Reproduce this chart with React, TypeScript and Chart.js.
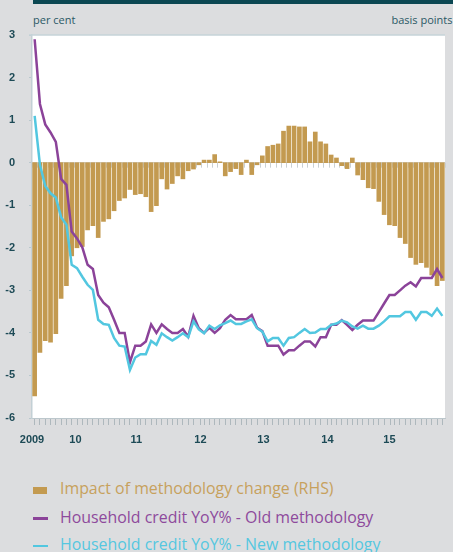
import React, { useEffect, useRef } from 'react';
import { Chart, registerables } from 'chart.js';

Chart.register(...registerables);

// Monthly observations, starting mid-2009 (index 0) through late 2015 (index 77)
const MONTH_INDEX: number[] = Array.from({ length: 78 }, (_, i) => i);

// Impact of methodology change, basis points (RHS)
const IMPACT_BP: number[] = [
  -54.8, -44.6, -41.8, -42.2, -40.2, -31.9, -28.9, -21.9, -20.0, -19.7,
  -15.8, -14.8, -17.6, -13.8, -13.2, -11.3, -8.9, -8.3, -6.3, -7.5,
  -7.3, -8.0, -11.5, -10.1, -3.8, -6.2, -4.9, -3.1, -3.8, -1.9,
  -1.5, -0.5, 0.6, 0.6, 1.9, 0.2, -3.1, -2.1, -1.4, -2.8,
  0.6, -2.8, -0.5, 1.6, 3.8, 4.1, 4.4, 7.4, 8.6, 8.6,
  8.4, 8.4, 4.9, 7.2, 4.9, 4.4, 1.8, 1.1, -0.7, -1.4,
  1.1, -2.9, -4.0, -5.9, -6.1, -9.1, -12.2, -14.6, -14.8, -17.6,
  -19.0, -22.3, -23.9, -23.5, -24.6, -26.4, -28.9, -27.7,
];

// Household credit YoY% - Old methodology
const OLD_METHOD: number[] = [
  2.90, 1.38, 0.90, 0.71, 0.49, -0.38, -0.52, -1.62, -1.78, -1.99,
  -2.40, -2.50, -3.11, -3.29, -3.40, -3.69, -4.00, -4.00, -4.69, -4.30,
  -4.30, -4.20, -3.80, -4.00, -3.80, -3.91, -4.00, -4.00, -3.91, -4.09,
  -3.60, -3.89, -4.00, -3.88, -4.00, -3.89, -3.69, -3.58, -3.68, -3.68,
  -3.68, -3.58, -3.88, -3.96, -4.30, -4.30, -4.30, -4.51, -4.41, -4.41,
  -4.30, -4.20, -4.20, -4.32, -4.10, -4.10, -3.81, -3.81, -3.70, -3.81,
  -3.93, -3.81, -3.71, -3.71, -3.71, -3.51, -3.31, -3.11, -3.11, -3.00,
  -2.89, -2.81, -2.91, -2.71, -2.71, -2.71, -2.50, -2.71,
];

// Household credit YoY% - New methodology
const NEW_METHOD: number[] = [
  1.10, -0.05, -0.55, -0.72, -0.82, -1.28, -1.46, -2.40, -2.48, -2.68,
  -2.87, -2.99, -3.69, -3.79, -3.81, -4.12, -4.30, -4.32, -4.87, -4.58,
  -4.50, -4.50, -4.19, -4.28, -4.01, -4.10, -4.18, -4.10, -4.01, -4.10,
  -3.73, -3.92, -4.01, -3.83, -3.91, -3.82, -3.77, -3.71, -3.79, -3.79,
  -3.73, -3.68, -3.89, -3.97, -4.20, -4.12, -4.12, -4.30, -4.12, -4.10,
  -4.00, -3.91, -4.00, -3.99, -3.91, -3.91, -3.81, -3.78, -3.71, -3.75,
  -3.85, -3.90, -3.83, -3.90, -3.90, -3.83, -3.73, -3.61, -3.61, -3.61,
  -3.51, -3.51, -3.69, -3.51, -3.51, -3.60, -3.43, -3.60,
];

// X-axis year labels and their positions (in month-index units)
const X_TICK_LABELS: string[] = ['2009', '10', '11', '12', '13', '14', '15'];
const X_TICK_POSITIONS: number[] = [-0.5, 7.7, 19.2, 31.3, 43.2, 55.3, 67.0];

const LEFT_MIN = -6;
const LEFT_MAX = 3;
const RIGHT_MIN = -60;
const RIGHT_MAX = 30;

const GOLD = '#c39a50';
const PURPLE = '#8b4399';
const CYAN = '#52c7e0';
const AXIS_TEXT = '#1d4a56';
const BG = '#dcdddf';

const W = 453;
const CANVAS_H = 450;

export default function App() {
  const ref = useRef<HTMLCanvasElement | null>(null);

  useEffect(() => {
    const canvas = ref.current;
    if (!canvas) return;

    const n = MONTH_INDEX.length;
    const boundaries: number[] = [];
    for (let i = 0; i <= n; i++) boundaries.push(i - 0.5);
    const labelMap = new Map<number, string>();
    X_TICK_POSITIONS.forEach((p, i) => labelMap.set(p, X_TICK_LABELS[i]));
    const labelOnly = new Set<number>(X_TICK_POSITIONS.filter((p) => !boundaries.includes(p)));
    const allTicks = Array.from(new Set<number>([...boundaries, ...X_TICK_POSITIONS])).sort((a, b) => a - b);

    const decor = {
      id: 'decor',
      beforeDraw(chart: any) {
        const { ctx, chartArea } = chart;
        ctx.save();
        ctx.fillStyle = '#ffffff';
        ctx.fillRect(chartArea.left, chartArea.top, chartArea.right - chartArea.left, chartArea.bottom - chartArea.top);
        ctx.restore();
      },
      beforeDatasetsDraw(chart: any) {
        const { ctx } = chart;
        const xs = chart.scales.x;
        const y0 = chart.scales.y.getPixelForValue(0);
        ctx.save();
        ctx.strokeStyle = '#c9d0d3';
        ctx.lineWidth = 1;
        boundaries.forEach((b) => {
          const px = Math.round(xs.getPixelForValue(b)) + 0.5;
          ctx.beginPath();
          ctx.moveTo(px, y0);
          ctx.lineTo(px, y0 + 5);
          ctx.stroke();
        });
        ctx.restore();
      },
      afterDraw(chart: any) {
        const { ctx, chartArea } = chart;
        ctx.save();
        ctx.strokeStyle = '#c6d3d8';
        ctx.lineWidth = 1.5;
        ctx.beginPath();
        ctx.moveTo(chartArea.left - 3, chartArea.top);
        ctx.lineTo(chartArea.right, chartArea.top);
        ctx.stroke();
        ctx.restore();
      },
    };

    const chart = new Chart(canvas, {
      type: 'bar',
      data: {
        datasets: [
          {
            type: 'line',
            label: 'Household credit YoY% - New methodology',
            data: MONTH_INDEX.map((m, i) => ({ x: m, y: NEW_METHOD[i] })),
            borderColor: CYAN,
            backgroundColor: CYAN,
            borderWidth: 2.5,
            pointRadius: 0,
            tension: 0,
            yAxisID: 'y',
            order: 0,
          } as any,
          {
            type: 'line',
            label: 'Household credit YoY% - Old methodology',
            data: MONTH_INDEX.map((m, i) => ({ x: m, y: OLD_METHOD[i] })),
            borderColor: PURPLE,
            backgroundColor: PURPLE,
            borderWidth: 2.5,
            pointRadius: 0,
            tension: 0,
            yAxisID: 'y',
            order: 1,
          } as any,
          {
            type: 'bar',
            label: 'Impact of methodology change (RHS)',
            data: MONTH_INDEX.map((m, i) => ({ x: m, y: IMPACT_BP[i] })),
            backgroundColor: GOLD,
            borderWidth: 0,
            barThickness: 4,
            yAxisID: 'y1',
            order: 2,
          } as any,
        ],
      },
      options: {
        animation: false,
        responsive: false,
        devicePixelRatio: 1,
        layout: { padding: { top: 35, left: 0, right: 0, bottom: 0 } },
        plugins: {
          legend: { display: false },
          tooltip: { enabled: false },
        },
        scales: {
          x: {
            type: 'linear',
            min: -0.5,
            max: n - 0.5,
            offset: false,
            afterBuildTicks: (scale: any) => {
              scale.ticks = allTicks.map((v) => ({ value: v }));
            },
            afterFit: (scale: any) => {
              scale.height = CANVAS_H - 418;
            },
            grid: {
              drawOnChartArea: false,
              tickLength: 7,
              tickColor: (ctx: any) =>
                ctx.tick && labelOnly.has(ctx.tick.value) ? 'rgba(0,0,0,0)' : '#aeb8bd',
            },
            border: { color: '#bcc7cc', width: 1 },
            ticks: {
              autoSkip: false,
              maxRotation: 0,
              minRotation: 0,
              padding: 8,
              color: AXIS_TEXT,
              font: { family: 'Liberation Sans', size: 11, weight: 'bold' },
              callback: (v: any) => labelMap.get(Number(v)) ?? '',
            },
          } as any,
          y: {
            position: 'left',
            min: LEFT_MIN,
            max: LEFT_MAX,
            afterFit: (scale: any) => {
              scale.width = 32;
            },
            grid: {
              color: (ctx: any) => (ctx.tick && ctx.tick.value === 0 ? '#d3d9dc' : 'rgba(0,0,0,0)'),
              tickColor: '#b9c8ce',
              tickLength: 3,
            },
            border: { color: '#c3d0d5', width: 1.5 },
            ticks: {
              stepSize: 1,
              padding: 14,
              color: AXIS_TEXT,
              font: { family: 'Liberation Sans', size: 11, weight: 'bold' },
            },
          } as any,
          y1: {
            position: 'right',
            display: false,
            min: RIGHT_MIN,
            max: RIGHT_MAX,
          } as any,
        },
      },
      plugins: [decor],
    });

    return () => chart.destroy();
  }, []);

  const textFont = '"Open Sans", "Noto Sans", sans-serif';
  const legendSize = 15.9;

  return (
    <div
      style={{
        position: 'absolute',
        left: 0,
        top: 0,
        width: W,
        height: 552,
        background: BG,
        overflow: 'hidden',
        fontFamily: textFont,
      }}
    >
      <div style={{ position: 'absolute', left: 33, top: 0, width: W - 33, height: 4, background: '#0b4752' }} />
      <div
        style={{
          position: 'absolute',
          left: 33,
          top: 14,
          fontSize: 11,
          lineHeight: '11px',
          color: '#2b5965',
          whiteSpace: 'nowrap',
        }}
      >
        per cent
      </div>
      <div
        style={{
          position: 'absolute',
          right: 0.5,
          top: 14,
          fontSize: 11,
          lineHeight: '11px',
          color: '#2b5965',
          whiteSpace: 'nowrap',
        }}
      >
        basis points
      </div>
      <canvas ref={ref} width={W} height={CANVAS_H} style={{ position: 'absolute', left: 0, top: 0, width: W, height: CANVAS_H }} />

      <div style={{ position: 'absolute', left: 33, top: 487, width: 14, height: 7, background: GOLD }} />
      <div
        style={{
          position: 'absolute',
          left: 60,
          top: 481,
          fontSize: legendSize,
          lineHeight: `${legendSize}px`,
          color: '#c7a15d',
          whiteSpace: 'nowrap',
        }}
      >
        Impact of methodology change (RHS)
      </div>

      <div style={{ position: 'absolute', left: 33, top: 517, width: 15, height: 2.5, background: PURPLE }} />
      <div
        style={{
          position: 'absolute',
          left: 60,
          top: 509.5,
          fontSize: legendSize,
          lineHeight: `${legendSize}px`,
          color: '#8e4a9c',
          whiteSpace: 'nowrap',
        }}
      >
        Household credit YoY% - Old methodology
      </div>

      <div style={{ position: 'absolute', left: 33, top: 544.5, width: 15, height: 2.5, background: CYAN }} />
      <div
        style={{
          position: 'absolute',
          left: 60,
          top: 536.5,
          fontSize: legendSize,
          lineHeight: `${legendSize}px`,
          color: '#55c7e0',
          whiteSpace: 'nowrap',
        }}
      >
        Household credit YoY% - New methodology
      </div>
    </div>
  );
}
